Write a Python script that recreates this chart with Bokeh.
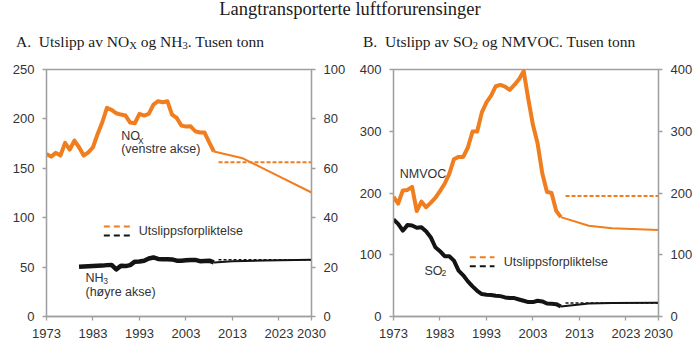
from bokeh.plotting import figure
from bokeh.models import (Range1d, LinearAxis, FixedTicker, Label, Arrow, Div)
from bokeh.layouts import column, row
from bokeh.embed import file_html
from bokeh.resources import INLINE

# ---------------- data ----------------
x_ticks = [1973, 1983, 1993, 2003, 2013, 2023, 2030]
hist_years = list(range(1973, 2010))

nox_hist = [164.6, 161.8, 165.6, 162.9, 175.7, 169.0, 178.0, 171.3, 162.9, 166.2,
            171.3, 184.8, 196.6, 211.2, 209.2, 205.7, 204.4, 203.4, 196.3, 195.6,
            205.1, 203.4, 205.1, 214.5, 217.9, 216.9, 217.9, 204.4, 201.0, 193.3,
            192.2, 192.5, 187.5, 186.2, 186.2, 176.3, 167.0]
nox_proj_years = [2009, 2015, 2020, 2030]
nox_proj = [167.0, 160.5, 149.0, 125.5]

nh3_years = list(range(1980, 2010))
nh3_hist = [20.1, 20.2, 20.3, 20.4, 20.5, 20.6, 20.8, 20.9, 19.1, 20.5,
            20.4, 20.8, 22.2, 22.3, 22.6, 23.5, 23.9, 23.3, 23.2, 23.2,
            23.1, 22.6, 22.6, 22.8, 22.9, 22.9, 22.4, 22.5, 22.6, 21.9]
nh3_proj_years = [2009, 2013, 2020, 2030]
nh3_proj = [21.9, 22.4, 22.7, 23.0]

nmvoc_hist = [193.5, 182.7, 204.0, 205.0, 210.0, 170.7, 186.0, 177.0, 184.0, 192.0,
              203.0, 215.0, 231.0, 254.7, 258.5, 258.5, 273.7, 299.7, 299.7, 330.6,
              346.9, 357.7, 372.9, 375.0, 372.4, 366.9, 375.0, 384.3, 397.3, 352.0,
              310.0, 280.0, 232.0, 202.0, 200.0, 171.0, 161.0]
nmvoc_proj_years = [2009, 2015, 2020, 2030]
nmvoc_proj = [161.0, 147.0, 143.0, 140.0]

so2_hist = [157.0, 150.0, 139.0, 148.0, 147.4, 143.6, 144.7, 138.0, 128.5, 112.2,
            105.7, 97.6, 97.6, 90.5, 74.3, 66.7, 56.9, 48.8, 41.7, 36.3,
            35.2, 34.7, 33.6, 33.0, 30.9, 29.8, 29.8, 27.6, 25.5, 23.3,
            23.3, 25.5, 24.4, 21.1, 20.6, 20.0, 16.3]
so2_proj_years = [2009, 2015, 2020, 2030]
so2_proj = [16.3, 21.0, 21.7, 22.2]

commit_years = [2010, 2030]
nox_commit = [156, 156]
nh3_commit = [23, 23]
nmvoc_commit = [195, 195]
so2_commit = [22, 22]

# ---------------- style ----------------
ORANGE = "#F07D1E"
BLACK = "#141414"
AXIS = "#A0A0A0"
TXT = "#333333"
SANS = "Liberation Sans"


def style_axis(ax, ticks):
    ax.ticker = FixedTicker(ticks=ticks)
    ax.axis_line_color = AXIS
    ax.axis_line_width = 1.3
    ax.major_tick_line_color = AXIS
    ax.major_tick_line_width = 1.3
    ax.major_tick_out = 4
    ax.major_tick_in = 0
    ax.minor_tick_line_color = None
    ax.major_label_text_font = SANS
    ax.major_label_text_font_size = "13px"
    ax.major_label_text_color = TXT
    ax.major_label_standoff = 8


def make_fig(ymax, left, right):
    p = figure(width=350, height=301, x_range=Range1d(1973, 2030),
               y_range=Range1d(0, ymax), output_backend="svg",
               toolbar_location=None, min_border_left=left,
               min_border_right=right, min_border_top=15, min_border_bottom=39)
    p.grid.grid_line_color = None
    p.outline_line_color = AXIS
    p.outline_line_width = 1.3
    p.background_fill_color = "white"
    p.border_fill_color = "white"
    return p


def lab(p, x, y, text, size="12.5px", **kw):
    p.add_layout(Label(x=x, y=y, text=text, text_font=SANS, text_font_size=size,
                       text_color=TXT, text_baseline="alphabetic", **kw))


def key(p, x0, x1, y, color):
    # legend key: a short dashed stroke (headless arrow annotation)
    p.add_layout(Arrow(end=None, start=None, x_start=x0, x_end=x1, y_start=y,
                       y_end=y, line_color=color, line_width=2, line_dash="6 4"))


# ---------------- panel A ----------------
pa = make_fig(250, 46, 39)
pa.extra_y_ranges = {"nh3": Range1d(0, 100)}
pa.add_layout(LinearAxis(y_range_name="nh3"), "right")
style_axis(pa.xaxis[0], x_ticks)
style_axis(pa.yaxis[0], [0, 50, 100, 150, 200, 250])
style_axis(pa.yaxis[1], [0, 20, 40, 60, 80, 100])

pa.line(hist_years, nox_hist, line_color=ORANGE, line_width=4, line_join="round")
pa.line(nox_proj_years, nox_proj, line_color=ORANGE, line_width=2)
pa.line(commit_years, nox_commit, line_color=ORANGE, line_width=2, line_dash="4 2")
pa.line(nh3_years, nh3_hist, line_color=BLACK, line_width=4.5, line_join="round",
        y_range_name="nh3")
pa.line(nh3_proj_years, nh3_proj, line_color=BLACK, line_width=2, y_range_name="nh3")
pa.line(commit_years, nh3_commit, line_color=BLACK, line_width=1.5, line_dash="3 2",
        y_range_name="nh3")

key(pa, 1985.33, 1990.92, 91.1, ORANGE)
key(pa, 1985.33, 1990.92, 82.0, BLACK)
lab(pa, 1992.85, 86.5, "Utslippsforpliktelse")
lab(pa, 1989.07, 182.8, "NO")
lab(pa, 1992.7, 178.1, "X", size="8.5px")
lab(pa, 1989.07, 169.5, "(venstre akse)")
lab(pa, 1981.39, 38.7, "NH")
lab(pa, 1985.2, 35.9, "3", size="8.5px")
lab(pa, 1981.39, 24.5, "(høyre akse)")

# ---------------- panel B ----------------
pb = make_fig(400, 43, 42)
pb.add_layout(LinearAxis(), "right")
style_axis(pb.xaxis[0], x_ticks)
style_axis(pb.yaxis[0], [0, 100, 200, 300, 400])
style_axis(pb.yaxis[1], [0, 100, 200, 300, 400])

pb.line(hist_years, nmvoc_hist, line_color=ORANGE, line_width=4, line_join="round")
pb.line(nmvoc_proj_years, nmvoc_proj, line_color=ORANGE, line_width=2)
pb.line(commit_years, nmvoc_commit, line_color=ORANGE, line_width=2, line_dash="4 2")
pb.line(hist_years, so2_hist, line_color=BLACK, line_width=4, line_join="round")
pb.line(so2_proj_years, so2_proj, line_color=BLACK, line_width=2)
pb.line(commit_years, so2_commit, line_color=BLACK, line_width=1.5, line_dash="3 2")

key(pb, 1989.41, 1994.72, 95.9, ORANGE)
key(pb, 1989.41, 1994.72, 81.3, BLACK)
lab(pb, 1996.72, 88.5, "Utslippsforpliktelse")
lab(pb, 1974.36, 231.4, "NMVOC")
lab(pb, 1979.67, 74.3, "SO")
lab(pb, 1983.3, 69.9, "2", size="8.5px")

# ---------------- titles ----------------
SUB = '<sub style="font-size:0.68em;vertical-align:-0.2em;line-height:0">%s</sub>'
title_div = Div(text=('<div style="font-family:\'Liberation Serif\';font-size:18.5px;'
                      'line-height:24px;color:#1a1a1a;text-align:center;width:700px;'
                      'position:relative;top:-3px;">'
                      'Langtransporterte luftforurensinger</div>'),
                width=700, height=30, margin=0)
sub_a = Div(text=('<div style="font-family:\'Liberation Serif\';font-size:15.5px;'
                  'line-height:23.5px;color:#1a1a1a;padding-left:16px;white-space:nowrap;">'
                  'A.&nbsp; Utslipp av NO' + SUB % "X" + ' og NH' + SUB % "3" +
                  '. Tusen tonn</div>'),
            width=350, height=24, margin=0)
sub_b = Div(text=('<div style="font-family:\'Liberation Serif\';font-size:15.5px;'
                  'line-height:23.5px;color:#1a1a1a;padding-left:13px;white-space:nowrap;">'
                  'B.&nbsp; Utslipp av SO' + SUB % "2" +
                  ' og NMVOC. Tusen tonn</div>'),
            width=350, height=24, margin=0)

layout = column(title_div,
                row(column(sub_a, pa, margin=0, spacing=0),
                    column(sub_b, pb, margin=0, spacing=0), margin=0, spacing=0),
                margin=0, spacing=0)

open("out.html", "w").write(file_html(layout, INLINE))
